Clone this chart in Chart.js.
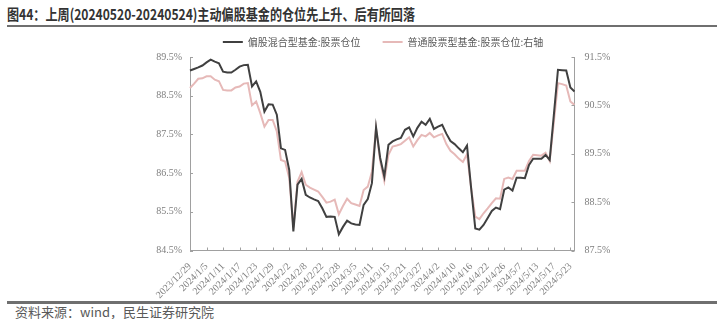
<!DOCTYPE html>
<html>
<head>
<meta charset="utf-8">
<script src="https://cdn.jsdelivr.net/npm/chart.js@4.4.1/dist/chart.umd.min.js"></script>
<style>
html, body { margin: 0; padding: 0; background: #fff; width: 717px; height: 319px; overflow: hidden; }
body { position: relative; }
#title { position: absolute; left: 7px; top: 6px; font: bold 15px "Noto Sans CJK SC"; line-height: 16px; color: #333; white-space: nowrap; transform-origin: 0 0; }
#rule1 { position: absolute; left: 7px; right: 0; top: 25px; height: 2px; background: #6f6f6f; }
#rule2 { position: absolute; left: 7px; right: 0; top: 301px; height: 3px; background: #6f6f6f; }
#src { position: absolute; left: 15px; top: 305px; font: 13px "Noto Sans CJK SC"; line-height: 14px; color: #595959; white-space: nowrap; }
#wrap { position: absolute; left: 49px; top: 15px; width: 668px; height: 286px; }
</style>
</head>
<body>
<div id="title">图44：上周(20240520-20240524)主动偏股基金的仓位先上升、后有所回落</div>
<div id="rule1"></div>
<div id="wrap"><canvas id="myChart"></canvas></div>
<div id="rule2"></div>
<div id="src">资料来源：wind，民生证券研究院</div>
<script>
// trading days, 2023/12/29 - 2024/5/24
var dates = [
	'2023/12/29',
	'2024/1/2', '2024/1/3', '2024/1/4', '2024/1/5', '2024/1/8', '2024/1/9', '2024/1/10', '2024/1/11', '2024/1/12',
	'2024/1/15', '2024/1/16', '2024/1/17', '2024/1/18', '2024/1/19', '2024/1/22', '2024/1/23', '2024/1/24', '2024/1/25', '2024/1/26',
	'2024/1/29', '2024/1/30', '2024/1/31', '2024/2/1', '2024/2/2', '2024/2/5', '2024/2/6', '2024/2/7', '2024/2/8',
	'2024/2/19', '2024/2/20', '2024/2/21', '2024/2/22', '2024/2/23', '2024/2/26', '2024/2/27', '2024/2/28', '2024/2/29',
	'2024/3/1', '2024/3/4', '2024/3/5', '2024/3/6', '2024/3/7', '2024/3/8', '2024/3/11', '2024/3/12', '2024/3/13', '2024/3/14', '2024/3/15',
	'2024/3/18', '2024/3/19', '2024/3/20', '2024/3/21', '2024/3/22', '2024/3/25', '2024/3/26', '2024/3/27', '2024/3/28', '2024/3/29',
	'2024/4/1', '2024/4/2', '2024/4/3', '2024/4/8', '2024/4/9', '2024/4/10', '2024/4/11', '2024/4/12',
	'2024/4/15', '2024/4/16', '2024/4/17', '2024/4/18', '2024/4/19', '2024/4/22', '2024/4/23', '2024/4/24', '2024/4/25', '2024/4/26',
	'2024/4/29', '2024/4/30', '2024/5/6', '2024/5/7', '2024/5/8', '2024/5/9', '2024/5/10',
	'2024/5/13', '2024/5/14', '2024/5/15', '2024/5/16', '2024/5/17', '2024/5/20', '2024/5/21', '2024/5/22', '2024/5/23', '2024/5/24'
];

// 偏股混合型基金:股票仓位 (left axis, %)
var hybridFund = [
	89.15, 89.19, 89.23, 89.28, 89.36, 89.43, 89.38, 89.34, 89.12, 89.10,
	89.10, 89.17, 89.25, 89.29, 89.30, 88.74, 88.87, 88.60, 88.09, 88.28,
	88.27, 88.01, 87.14, 87.10, 86.58, 84.99, 86.20, 86.35, 85.94, 85.87,
	85.82, 85.78, 85.59, 85.37, 85.38, 85.37, 84.92, 85.11, 85.27, 85.20,
	85.17, 85.16, 85.68, 85.83, 86.24, 87.68, 86.89, 86.41, 87.23, 87.32,
	87.37, 87.41, 87.62, 87.68, 87.45, 87.67, 87.83, 87.75, 87.90, 87.64,
	87.70, 87.75, 87.52, 87.33, 87.25, 87.14, 87.04, 87.21, 86.11, 85.07,
	85.04, 85.16, 85.34, 85.52, 85.61, 85.57, 86.07, 86.13, 86.05, 86.38,
	86.38, 86.37, 86.71, 86.87, 86.87, 86.87, 86.97, 86.84, 88.00, 89.17,
	89.16, 89.15, 88.71, 88.61
];

// 普通股票型基金:股票仓位 (right axis, %)
var stockFund = [
	90.86, 90.95, 91.05, 91.06, 91.10, 91.10, 91.03, 91.00, 90.82, 90.81,
	90.81, 90.87, 90.89, 90.95, 90.96, 90.50, 90.58, 90.34, 90.06, 90.20,
	90.20, 89.96, 89.37, 89.34, 89.00, 87.98, 88.92, 89.12, 88.86, 88.80,
	88.76, 88.72, 88.61, 88.49, 88.51, 88.55, 88.25, 88.42, 88.57, 88.48,
	88.45, 88.42, 88.75, 88.82, 89.13, 90.02, 89.35, 88.94, 89.48, 89.65,
	89.67, 89.70, 89.77, 89.84, 89.65, 89.78, 89.89, 89.86, 89.93, 89.84,
	89.88, 89.91, 89.70, 89.56, 89.49, 89.40, 89.33, 89.49, 88.79, 88.20,
	88.15, 88.27, 88.37, 88.48, 88.58, 88.57, 88.98, 89.01, 88.98, 89.15,
	89.15, 89.15, 89.35, 89.48, 89.47, 89.46, 89.52, 89.35, 90.15, 90.96,
	90.94, 90.91, 90.58, 90.51
];

var leftTicks = [84.5, 85.5, 86.5, 87.5, 88.5, 89.5];
var rightTicks = [87.5, 88.5, 89.5, 90.5, 91.5];
var labelEvery = 4;

var seriesNames = ['偏股混合型基金:股票仓位', '普通股票型基金:股票仓位:右轴'];
var seriesColors = ['#404040', '#E6B9B8'];
var axisColor = '#a0a0a0';
var tickColor = '#7f7f7f';

// squeeze the title to the width it has in the original
var title = document.getElementById('title');
var tw = title.getBoundingClientRect().width;
title.style.transform = 'scaleX(' + (408 / tw) + ')';

// tick marks that point into the plot
var innerTicks = {
	id: 'innerTicks',
	afterDraw: function(chart) {
		var ctx = chart.ctx;
		var a = chart.chartArea;
		var s = chart.scales;
		ctx.save();
		ctx.strokeStyle = axisColor;
		ctx.lineWidth = 1;
		ctx.beginPath();
		leftTicks.forEach(function(v) {
			var py = Math.round(s.y.getPixelForValue(v)) + 0.5;
			ctx.moveTo(a.left, py);
			ctx.lineTo(a.left + 3, py);
		});
		rightTicks.forEach(function(v) {
			var py = Math.round(s.y1.getPixelForValue(v)) + 0.5;
			ctx.moveTo(a.right, py);
			ctx.lineTo(a.right - 3, py);
		});
		dates.forEach(function(d, i) {
			if (i % labelEvery) return;
			var px = Math.round(s.x.getPixelForValue(i)) + 0.5;
			ctx.moveTo(px, a.bottom);
			ctx.lineTo(px, a.bottom - 3);
		});
		ctx.stroke();
		ctx.restore();
	}
};

var tickFont = { family: '"Liberation Serif"', size: 10 };

var ctx = document.getElementById('myChart').getContext('2d');
var chart = new Chart(ctx, {
	type: 'line',
	data: {
		labels: dates,
		datasets: [
			{
				label: seriesNames[0],
				data: hybridFund,
				borderColor: seriesColors[0],
				backgroundColor: seriesColors[0],
				borderWidth: 2,
				pointRadius: 0,
				tension: 0,
				yAxisID: 'y'
			},
			{
				label: seriesNames[1],
				data: stockFund,
				borderColor: seriesColors[1],
				backgroundColor: seriesColors[1],
				borderWidth: 2,
				pointRadius: 0,
				tension: 0,
				yAxisID: 'y1'
			}
		]
	},
	options: {
		responsive: true,
		maintainAspectRatio: false,
		animation: false,
		layout: { padding: 0 },
		plugins: {
			tooltip: { enabled: false },
			legend: {
				position: 'top',
				labels: {
					boxWidth: 20,
					boxHeight: 2,
					padding: 22,
					color: '#595959',
					font: { family: '"Noto Sans CJK SC"', size: 10 },
					generateLabels: function(chart) {
						return chart.data.datasets.map(function(ds, i) {
							return {
								text: ds.label,
								fillStyle: ds.borderColor,
								strokeStyle: ds.borderColor,
								lineWidth: 0,
								fontColor: '#595959',
								datasetIndex: i
							};
						});
					}
				}
			}
		},
		scales: {
			x: {
				offset: false,
				grid: { display: false },
				border: { display: true, color: axisColor },
				ticks: {
					autoSkip: false,
					maxRotation: 45,
					minRotation: 45,
					padding: 2,
					color: tickColor,
					font: tickFont,
					callback: function(value, index) {
						return index % labelEvery === 0 ? dates[index] : null;
					}
				},
				afterFit: function(scale) { scale.height = 50.5; }
			},
			y: {
				position: 'left',
				min: 84.5,
				max: 89.5,
				grid: { display: false, drawTicks: false },
				border: { display: true, color: axisColor },
				ticks: {
					padding: 8,
					color: tickColor,
					font: tickFont,
					callback: function(v) { return v.toFixed(1) + '%'; }
				},
				afterBuildTicks: function(scale) {
					scale.ticks = leftTicks.map(function(v) { return { value: v }; });
				},
				afterFit: function(scale) { scale.width = 141; }
			},
			y1: {
				position: 'right',
				min: 87.5,
				max: 91.5,
				grid: { display: false, drawTicks: false },
				border: { display: true, color: axisColor },
				ticks: {
					padding: 10,
					color: tickColor,
					font: tickFont,
					callback: function(v) { return v.toFixed(1) + '%'; }
				},
				afterBuildTicks: function(scale) {
					scale.ticks = rightTicks.map(function(v) { return { value: v }; });
				},
				afterFit: function(scale) { scale.width = 142.5; }
			}
		}
	},
	plugins: [innerTicks]
});
</script>
</body>
</html>
